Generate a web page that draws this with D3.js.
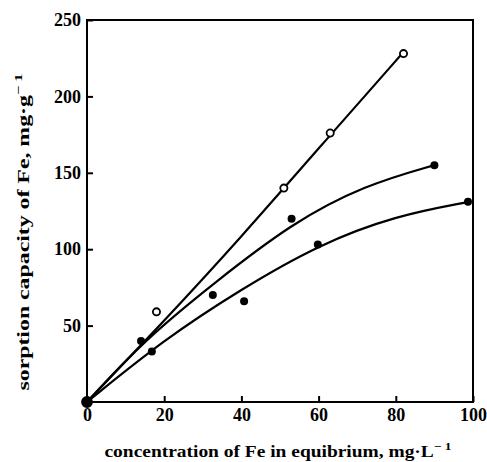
<!DOCTYPE html>
<html lang="en">
	<head>
		<meta charset="utf-8">
		<title>Fe sorption isotherms</title>
		<script type="text/javascript" src="https://cdn.jsdelivr.net/npm/d3@7"></script>
		<style type="text/css">
		body {
			margin: 0;
			background: #fff;
		}
		.axis path,
		.axis line {
			stroke: black;
			stroke-width: 2px;
		}
		.axis text {
			font-family: "Liberation Serif", serif;
			font-weight: bold;
			font-size: 18px;
			fill: black;
		}
		.title {
			font-family: "Liberation Serif", serif;
			font-weight: bold;
			font-size: 16px;
			fill: black;
		}
		</style>
	</head>
	<body>
		<div id="chart"></div>
		<script type="text/javascript">

		// x ticks / y ticks
		var xTicks = [0, 20, 40, 60, 80, 100];
		var yTicks = [50, 100, 150, 200, 250];

		// measured points (series A open, B and C filled)
		var ptsA = [[0, 0], [18, 59], [51, 140], [63, 176], [82, 228]];
		var ptsB = [[0, 0], [14, 40], [32.6, 70], [53, 120], [90, 155]];
		var ptsC = [[0, 0], [16.8, 33], [40.7, 66], [59.8, 103], [98.7, 131]];

		// fitted curves
		var fitA = [[0, 0], [20, 53], [40, 108], [60, 166], [82, 229]];
		var fitB = [[0, 0], [15, 41], [33, 78], [53, 117], [72, 142], [90, 155]];
		var fitC = [[0, 0], [20, 41], [40, 74], [60, 103], [80, 122], [99, 131]];

		var margin = {top: 20, left: 87},
			width = 473 - margin.left,
			height = 402 - margin.top;

		var svg = d3.select("#chart")
					.append("svg")
					.attr("width", 487)
					.attr("height", 462);

		var x = d3.scaleLinear().domain([0, 100]).range([0, width]);
		var y = d3.scaleLinear().domain([0, 250]).range([height, 0]);

		var chart = svg.append("g")
					   .attr("transform", "translate(" + margin.left + "," + margin.top + ")");

		// frame
		chart.append("rect")
			 .attr("width", width).attr("height", height)
			 .attr("fill", "none")
			 .attr("stroke", "black")
			 .attr("stroke-width", 2);

		var xAxis = d3.axisBottom(x)
					  .tickValues(xTicks)
					  .tickSizeInner(-6)
					  .tickSizeOuter(0)
					  .tickPadding(6)
					  .tickFormat(d3.format("d"));
		var yAxis = d3.axisLeft(y)
					  .tickValues(yTicks)
					  .tickSizeInner(-6)
					  .tickSizeOuter(0)
					  .tickPadding(6)
					  .tickFormat(d3.format("d"));

		chart.append("g")
			 .attr("class", "x axis")
			 .attr("transform", "translate(0," + height + ")")
			 .call(xAxis)
			 .select(".domain").remove();

		chart.append("g")
			 .attr("class", "y axis")
			 .call(yAxis)
			 .select(".domain").remove();

		// curves
		var line = d3.line()
					 .x(function(d) { return x(d[0]); })
					 .y(function(d) { return y(d[1]); })
					 .curve(d3.curveBasis);

		[fitA, fitB, fitC].forEach(function(f) {
			chart.append("path")
				 .datum(f)
				 .attr("d", line)
				 .attr("fill", "none")
				 .attr("stroke", "black")
				 .attr("stroke-width", 2.2);
		});

		// markers
		chart.selectAll(".open")
			 .data(ptsA)
			 .enter()
			 .append("circle")
			 .attr("cx", function(d) { return x(d[0]); })
			 .attr("cy", function(d) { return y(d[1]); })
			 .attr("r", function(d) { return d[0] === 0 ? 5 : 3.6; })
			 .attr("fill", function(d) { return d[0] === 0 ? "black" : "white"; })
			 .attr("stroke", "black")
			 .attr("stroke-width", 1.8);

		chart.selectAll(".filled")
			 .data(ptsB.concat(ptsC))
			 .enter()
			 .append("circle")
			 .attr("cx", function(d) { return x(d[0]); })
			 .attr("cy", function(d) { return y(d[1]); })
			 .attr("r", 4)
			 .attr("fill", "black");

		// axis titles
		var xt = svg.append("text")
					.attr("class", "title")
					.attr("x", 278)
					.attr("y", 457)
					.attr("text-anchor", "middle")
					.attr("textLength", 347)
					.attr("lengthAdjust", "spacingAndGlyphs");
		xt.append("tspan").text("concentration of Fe in equibrium, mg\u00b7L");
		xt.append("tspan").attr("dy", -7).attr("font-size", 11).text("\u2212 1");

		var yt = svg.append("text")
					.attr("class", "title")
					.attr("transform", "translate(29,232) rotate(-90)")
					.attr("text-anchor", "middle")
					.attr("textLength", 317)
					.attr("lengthAdjust", "spacingAndGlyphs");
		yt.append("tspan").text("sorption capacity of Fe, mg\u00b7g");
		yt.append("tspan").attr("dy", -7).attr("font-size", 11).text("\u2212 1");

		</script>
	</body>
</html>
